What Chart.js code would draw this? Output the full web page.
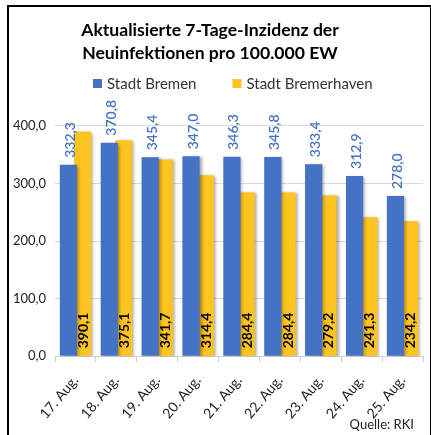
<!DOCTYPE html>
<html>
<head>
    <title>7-Tage-Inzidenz Bremen</title>
    <style>
        body { margin: 0; background: #fff; }
        #wrap { position: relative; width: 431px; height: 435px; overflow: hidden; }
        #frame {
            position: absolute; left: 7px; top: 5px; width: 421px; height: 450px;
            border: 2px solid #000; pointer-events: none;
        }
    </style>
    <script src="https://cdn.jsdelivr.net/npm/chart.js"></script>
</head>
<body>
<div id="wrap">
    <canvas id="myChart" width="431" height="435"></canvas>
    <div id="frame"></div>
</div>
<script>
    // data
    let days = ['17. Aug.', '18. Aug.', '19. Aug.', '20. Aug.', '21. Aug.', '22. Aug.', '23. Aug.', '24. Aug.', '25. Aug.'];
    let bremen = [332.3, 370.8, 345.4, 347.0, 346.3, 345.8, 333.4, 312.9, 278.0];
    let bremerhaven = [390.1, 375.1, 341.7, 314.4, 284.4, 284.4, 279.2, 241.3, 234.2];
    let yTicks = [0, 100, 200, 300, 400];
    let titleLines = ['Aktualisierte 7-Tage-Inzidenz der', 'Neuinfektionen pro 100.000 EW'];

    const blue = '#4472C4';
    const yellow = '#FFC41F';
    const fontName = 'Lato, "Open Sans", sans-serif';

    function fmt(v) {
        return v.toFixed(1).replace('.', ',');
    }

    // title, legend, bar shadow and value labels, like the Excel original
    let labelPlugin = {
        id: 'labels',
        beforeDatasetsDraw(chart) {
            let ctx = chart.ctx;
            ctx.save();
            ctx.shadowColor = 'rgba(0,0,0,0.35)';
            ctx.shadowBlur = 3;
            ctx.shadowOffsetX = 2;
            ctx.shadowOffsetY = 1;
        },
        afterDatasetsDraw(chart) {
            let ctx = chart.ctx;
            ctx.restore();
            let zero = chart.scales.y.getPixelForValue(0);

            ctx.save();
            ctx.textAlign = 'left';
            ctx.textBaseline = 'middle';

            // blue values above the Bremen bars
            ctx.fillStyle = blue;
            ctx.font = '600 14px ' + fontName;
            chart.getDatasetMeta(0).data.forEach((bar, i) => {
                ctx.save();
                ctx.translate(bar.x + 2, bar.y - 7);
                ctx.rotate(-Math.PI / 2);
                ctx.fillText(fmt(bremen[i]), 0, 0);
                ctx.restore();
            });

            // black values inside the Bremerhaven bars
            ctx.fillStyle = '#000';
            ctx.font = 'bold 14px ' + fontName;
            chart.getDatasetMeta(1).data.forEach((bar, i) => {
                ctx.save();
                ctx.translate(bar.x + 1, zero - 8);
                ctx.rotate(-Math.PI / 2);
                ctx.fillText(fmt(bremerhaven[i]), 0, 0);
                ctx.restore();
            });
            ctx.restore();
        },
        afterDraw(chart) {
            let ctx = chart.ctx;
            ctx.save();

            // title
            ctx.fillStyle = '#000';
            ctx.font = 'bold 17.6px ' + fontName;
            ctx.textAlign = 'center';
            ctx.textBaseline = 'middle';
            ctx.fillText(titleLines[0], 210, 30);
            ctx.fillText(titleLines[1], 210, 53);

            // legend
            ctx.font = '15px ' + fontName;
            ctx.textAlign = 'left';
            let x = 93;
            chart.data.datasets.forEach((ds) => {
                ctx.fillStyle = ds.backgroundColor;
                ctx.fillRect(x, 79, 9, 9);
                ctx.fillStyle = '#333';
                ctx.fillText(ds.label, x + 14, 84);
                x += 14 + ctx.measureText(ds.label).width + 36;
            });

            // source note
            ctx.fillStyle = '#222';
            ctx.font = '13px ' + fontName;
            ctx.textAlign = 'right';
            ctx.fillText('Quelle: RKI', 414, 425);
            ctx.restore();
        }
    };

    let ctx = document.getElementById('myChart').getContext('2d');
    let myChart = new Chart(ctx, {
        type: 'bar',
        data: {
            labels: days,
            datasets: [{
                label: 'Stadt Bremen',
                data: bremen,
                backgroundColor: blue,
                barPercentage: 1.2,
                categoryPercentage: 0.7
            }, {
                label: 'Stadt Bremerhaven',
                data: bremerhaven,
                backgroundColor: yellow,
                barPercentage: 1.2,
                categoryPercentage: 0.7
            }]
        },
        options: {
            responsive: false,
            animation: false,
            layout: {
                padding: { left: 4, right: 8, top: 97, bottom: 3 }
            },
            plugins: {
                title: { display: false },
                legend: { display: false },
                tooltip: { enabled: false }
            },
            scales: {
                x: {
                    grid: {
                        drawOnChartArea: false,
                        color: '#d0d0d0',
                        tickLength: 6
                    },
                    border: { color: '#d0d0d0' },
                    ticks: {
                        maxRotation: 50,
                        minRotation: 50,
                        padding: 10,
                        color: '#222',
                        font: { family: fontName, size: 14 }
                    }
                },
                y: {
                    min: 0,
                    max: 450,
                    afterBuildTicks: (axis) => {
                        axis.ticks = yTicks.map(v => ({ value: v }));
                    },
                    grid: { color: '#d9d9d9', drawTicks: false },
                    border: { display: false },
                    ticks: {
                        padding: 9,
                        color: '#222',
                        font: { family: fontName, size: 13 },
                        callback: (v) => fmt(v)
                    }
                }
            }
        },
        plugins: [labelPlugin]
    });
</script>
</body>
</html>
